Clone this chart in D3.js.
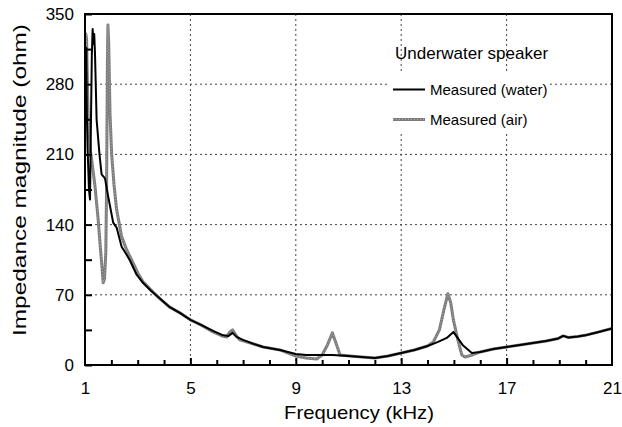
<!DOCTYPE html>
<html><head><meta charset="utf-8">
<script src="https://cdn.jsdelivr.net/npm/d3@7"></script>
<style>html,body{margin:0;padding:0;background:#fff;} svg{display:block;}</style>
</head><body>
<svg id="chart" width="622" height="427"></svg>
<script>
// ---- data (frequency kHz, impedance ohm) ----
const waterFreq = [1.00,1.05,1.07,1.10,1.15,1.19,1.22,1.26,1.29,1.32,1.35,1.38,1.44,1.55,1.63,1.76,1.88,2.07,2.20,2.39,2.58,2.71,2.96,3.2,3.5,3.85,4.2,4.6,5.0,5.4,5.86,6.2,6.45,6.6,6.75,7.0,7.4,7.76,8.4,9.0,9.4,9.8,10.4,11.0,11.5,12.0,12.5,13.0,13.5,14.0,14.4,14.73,14.98,15.33,15.68,16.0,16.5,17.0,17.5,18.0,18.5,18.96,19.15,19.34,19.7,20.04,20.5,21];
const waterOhm  = [316,316,250,215,175,165,230,310,335,320,330,310,245,210,190,186,168,142,137,118,110,104,90,82,74,66,58,52,45,40,34,30,29,32,28,25,21,18,15,11,10,10,10,9,8,7,9,12,15,19,23,27,33,20,12,13,16,18,20,22,24,26.5,29,27.5,28.5,30,33,36.5];
const airFreq = [1.00,1.03,1.06,1.10,1.125,1.2,1.3,1.38,1.5,1.58,1.63,1.69,1.74,1.79,1.82,1.85,1.87,1.90,1.95,2.01,2.1,2.2,2.39,2.58,2.82,3.0,3.2,3.5,3.85,4.2,4.6,5.0,5.4,5.86,6.2,6.38,6.5,6.6,6.72,6.88,7.4,7.76,8.4,9.0,9.4,9.79,10.0,10.2,10.39,10.55,10.68,11.06,11.5,12.0,12.5,13.0,13.5,14.0,14.22,14.45,14.62,14.77,14.88,14.98,15.15,15.3,15.42,15.7,16.0,16.5,17.0,17.5,18.0,18.5,18.96,19.15,19.34,19.7,20.04,20.5,21];
const airOhm  = [250,330,325,270,245,215,195,178,145,118,102,82,86,112,180,300,339,320,250,211,180,155,128,115,102,92,83,75,66,58,52,45,40,33,29,28,33,35,30,25,21,18,15,9,7,6,10,20,32,20,10,9,8,7,9,12,15,19,23,35,55,71,62,45,25,10,8,10,13,16,18,20,22,24,26.5,29,27.5,28.5,30,33,36.5];
const xTickLabels = [1,5,9,13,17,21];
const yTickLabels = [0,70,140,210,280,350];
const legendTitle = "Underwater speaker";
const seriesNames = ["Measured (water)","Measured (air)"];

const svg = d3.select("#chart");
const L = 85, R = 612, T = 14, B = 365;
const x = d3.scaleLinear().domain([1,21]).range([L,R]);
const y = d3.scaleLinear().domain([0,350]).range([B,T]);

const font = "'Liberation Sans', Arial, sans-serif";

// grid
const grid = svg.append("g").attr("stroke","#444").attr("stroke-width",1).attr("stroke-dasharray","2,3");
[5,9,13,17].forEach(v=>grid.append("line").attr("x1",x(v)).attr("x2",x(v)).attr("y1",T).attr("y2",B));
[70,140,210,280].forEach(v=>grid.append("line").attr("x1",L).attr("x2",R).attr("y1",y(v)).attr("y2",y(v)));

// lines
const line = d3.line().x(d=>x(d[0])).y(d=>y(d[1]));
const water = waterFreq.map((f,i)=>[f,waterOhm[i]]);
const air = airFreq.map((f,i)=>[f,airOhm[i]]);
const clip = svg.append("clipPath").attr("id","c").append("rect").attr("x",L).attr("y",T).attr("width",R-L).attr("height",B-T);
const pg = svg.append("g").attr("clip-path","url(#c)");
pg.append("path").datum(air).attr("d",line).attr("fill","none").attr("stroke","#7c7c7c").attr("stroke-width",3).attr("stroke-linejoin","round");
pg.append("path").datum(air).attr("d",line).attr("fill","none").attr("stroke","#b0b0b0").attr("stroke-width",1).attr("stroke-dasharray","1,2");
pg.append("path").datum(water).attr("d",line).attr("fill","none").attr("stroke","#000").attr("stroke-width",2).attr("stroke-linejoin","round");

// axes (ticks inward)
const xMinor = d3.range(2,21).filter(v=>![5,9,13,17].includes(v));
const xAxisMinor = d3.axisBottom(x).tickValues(xMinor).tickSize(-5).tickFormat("");
const xAxisMajor = d3.axisBottom(x).tickValues(xTickLabels).tickSize(-7).tickPadding(12).tickFormat(d=>d);
const gxm = svg.append("g").attr("transform",`translate(0,${B})`).call(xAxisMinor);
const gx = svg.append("g").attr("transform",`translate(0,${B})`).call(xAxisMajor);
[gxm,gx].forEach(g=>{g.select(".domain").remove(); g.selectAll(".tick line").attr("stroke","#000").attr("stroke-width",2);});
gx.selectAll(".tick text").attr("font-family",font).attr("font-size",17).attr("fill","#000").attr("dy","0.71em").attr("y",17);
gx.selectAll(".tick").filter(d=>d===1||d===21).select("line").remove();

const yAxis = d3.axisLeft(y).tickValues(d3.range(0,351,35)).tickSize(-7).tickPadding(11)
  .tickFormat(d=>yTickLabels.includes(d)?d:"");
const gy = svg.append("g").attr("transform",`translate(${L},0)`).call(yAxis);
gy.select(".domain").remove();
gy.selectAll(".tick line").attr("stroke","#000").attr("stroke-width",2);
gy.selectAll(".tick text").attr("font-family",font).attr("font-size",17).attr("fill","#000");

// frame
svg.append("rect").attr("x",L).attr("y",T).attr("width",R-L).attr("height",B-T).attr("fill","none").attr("stroke","#000").attr("stroke-width",2);

// titles
svg.append("text").attr("x",359).attr("y",419).attr("text-anchor","middle").attr("font-family",font).attr("font-size",19)
  .attr("textLength",150).attr("lengthAdjust","spacingAndGlyphs").text("Frequency (kHz)");
svg.append("text").attr("transform","translate(26,180) rotate(-90)").attr("text-anchor","middle").attr("font-family",font).attr("font-size",18)
  .attr("textLength",312).attr("lengthAdjust","spacingAndGlyphs").text("Impedance magnitude (ohm)");

// legend
svg.append("text").attr("x",395).attr("y",59).attr("font-family",font).attr("font-size",17).text(legendTitle);
svg.append("rect").attr("x",387).attr("y",72).attr("width",163).attr("height",60).attr("fill","#fff");
const lg = svg.append("g");
lg.append("line").attr("x1",393).attr("x2",425).attr("y1",89.5).attr("y2",89.5).attr("stroke","#000").attr("stroke-width",2);
lg.append("line").attr("x1",393).attr("x2",425).attr("y1",119.5).attr("y2",119.5).attr("stroke","#7c7c7c").attr("stroke-width",3);
lg.append("line").attr("x1",393).attr("x2",425).attr("y1",119.5).attr("y2",119.5).attr("stroke","#b0b0b0").attr("stroke-width",1).attr("stroke-dasharray","1,2");
lg.append("text").attr("x",430).attr("y",95).attr("font-family",font).attr("font-size",15).text(seriesNames[0]);
lg.append("text").attr("x",430).attr("y",125).attr("font-family",font).attr("font-size",15).text(seriesNames[1]);
</script>
</body></html>
